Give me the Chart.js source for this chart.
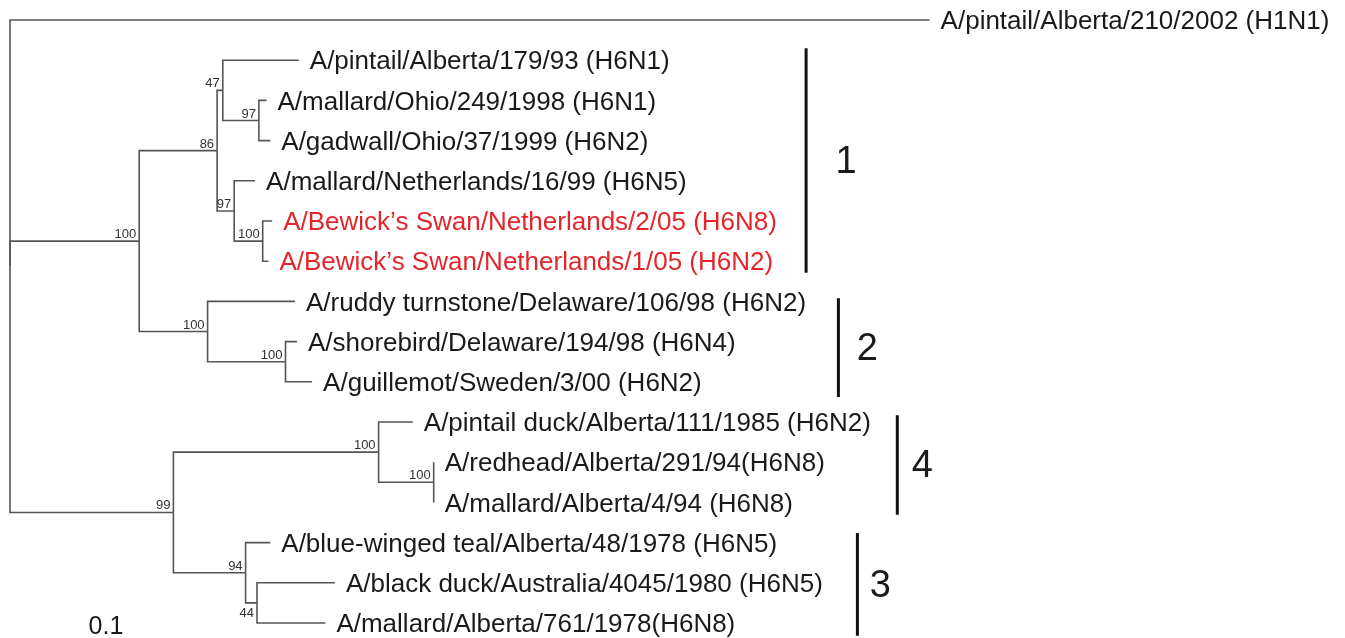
<!DOCTYPE html>
<html>
  <head>
    <title>H6 HA phylogeny</title>
    <script src="https://cdn.jsdelivr.net/npm/chart.js"></script>
    <style>
      body {
        margin: 0;
        padding: 0;
        background: #fff;
      }
      #chart-container {
        width: 1345px;
        height: 638px;
        position: relative;
      }
    </style>
  </head>
  <body>
    <div id="chart-container">
      <canvas id="treeChart"></canvas>
    </div>
    <script>
      // --- Tree data (branch lengths in substitutions/site) ---
      // Leaves, in display order (one row each, top to bottom)
      const taxa = [
        "A/pintail/Alberta/210/2002 (H1N1)",
        "A/pintail/Alberta/179/93 (H6N1)",
        "A/mallard/Ohio/249/1998 (H6N1)",
        "A/gadwall/Ohio/37/1999 (H6N2)",
        "A/mallard/Netherlands/16/99 (H6N5)",
        "A/Bewick\u2019s Swan/Netherlands/2/05 (H6N8)",
        "A/Bewick\u2019s Swan/Netherlands/1/05 (H6N2)",
        "A/ruddy turnstone/Delaware/106/98 (H6N2)",
        "A/shorebird/Delaware/194/98 (H6N4)",
        "A/guillemot/Sweden/3/00 (H6N2)",
        "A/pintail duck/Alberta/111/1985 (H6N2)",
        "A/redhead/Alberta/291/94(H6N8)",
        "A/mallard/Alberta/4/94 (H6N8)",
        "A/blue-winged teal/Alberta/48/1978 (H6N5)",
        "A/black duck/Australia/4045/1980 (H6N5)",
        "A/mallard/Alberta/761/1978(H6N8)"
      ];
      const leafParent = ["root", "C", "D", "D", "E", "F", "F", "G", "H", "H", "J", "K", "K", "L", "M", "M"];
      const leafBranch = [0.484, 0.040, 0.004, 0.006, 0.011, 0.005, 0.003, 0.046, 0.006, 0.014, 0.018, 0, 0, 0.013, 0.041, 0.036];
      const highlightedTaxa = [5, 6];

      // Internal nodes (parents listed before children)
      const nodeIds = ["root", "A", "B", "C", "D", "E", "F", "G", "H", "I", "J", "K", "L", "M"];
      const nodeParent = [null, "root", "A", "B", "C", "B", "E", "A", "G", "root", "I", "J", "I", "L"];
      const nodeBranch = [0, 0.068, 0.041, 0.003, 0.019, 0.009, 0.015, 0.036, 0.041, 0.086, 0.108, 0.029, 0.038, 0.006];
      const bootstrap = [null, 100, 86, 47, 97, 97, 100, 100, 100, 99, 100, 100, 94, 44];
      const bootstrapBelow = ["M"];

      // Clades marked on the right
      const cladeNames = ["1", "2", "4", "3"];
      const cladeFirst = [1, 7, 10, 13];
      const cladeLast = [6, 9, 12, 15];

      const scaleBarLabel = "0.1";

      // --- Layout (pixels / data units, kept apart from the data) ---
      const PX_PER_UNIT = 1900;
      const ROW_PX = 40.2;
      const cladeBarX = [0.419, 0.436, 0.467, 0.446];
      const cladePad = [[-0.30, 0.29], [-0.08, 0.38], [-0.17, 0.31], [-0.24, 0.32]];
      const cladeLabelGap = [40, 29, 25, 23];
      const FONT = '"Liberation Sans", Arial, sans-serif';

      // --- Build node coordinates ---
      const pos = {};
      nodeIds.forEach((id, i) => {
        const p = nodeParent[i];
        pos[id] = { x: p === null ? 0 : pos[p].x + nodeBranch[i], y: null };
      });
      const leafPos = taxa.map((t, i) => ({ x: pos[leafParent[i]].x + leafBranch[i], y: i }));
      // y of internal nodes: middle of the children, computed bottom-up
      for (let i = nodeIds.length - 1; i >= 0; i--) {
        const id = nodeIds[i];
        const ys = [];
        leafParent.forEach((p, j) => { if (p === id) ys.push(leafPos[j].y); });
        nodeParent.forEach((p, j) => { if (p === id) ys.push(pos[nodeIds[j]].y); });
        pos[id].y = (Math.min(...ys) + Math.max(...ys)) / 2;
      }

      // --- Datasets: one elbow per branch ---
      const branchStyle = {
        showLine: true,
        borderColor: "#555",
        borderWidth: 1.6,
        pointRadius: 0,
        fill: false,
        tension: 0,
        borderJoinStyle: "miter"
      };
      const datasets = [];
      const elbow = (parent, child) => [
        { x: parent.x, y: parent.y },
        { x: parent.x, y: child.y },
        { x: child.x, y: child.y }
      ];
      nodeIds.forEach((id, i) => {
        if (nodeParent[i] === null) return;
        datasets.push({ ...branchStyle, data: elbow(pos[nodeParent[i]], pos[id]) });
      });
      taxa.forEach((t, i) => {
        datasets.push({ ...branchStyle, data: elbow(pos[leafParent[i]], leafPos[i]) });
      });
      cladeNames.forEach((c, i) => {
        datasets.push({
          ...branchStyle,
          borderColor: "#111",
          borderWidth: 3,
          borderCapStyle: "butt",
          data: [
            { x: cladeBarX[i], y: cladeFirst[i] + cladePad[i][0] },
            { x: cladeBarX[i], y: cladeLast[i] + cladePad[i][1] }
          ]
        });
      });

      // --- Text: taxon names, bootstrap values, clade numbers, scale ---
      const treeText = {
        id: "treeText",
        afterDatasetsDraw(chart) {
          const { ctx, scales } = chart;
          const px = v => scales.x.getPixelForValue(v);
          const py = v => scales.y.getPixelForValue(v);
          ctx.save();

          ctx.font = "26px " + FONT;
          ctx.textAlign = "left";
          ctx.textBaseline = "middle";
          taxa.forEach((t, i) => {
            ctx.fillStyle = highlightedTaxa.includes(i) ? "#e3262c" : "#1a1a1a";
            ctx.fillText(t, px(leafPos[i].x) + 11, py(leafPos[i].y) + 2);
          });

          ctx.font = "13px " + FONT;
          ctx.fillStyle = "#333";
          ctx.textAlign = "right";
          nodeIds.forEach((id, i) => {
            if (bootstrap[i] === null) return;
            const x = px(pos[id].x) - 3;
            const y = py(pos[id].y);
            if (bootstrapBelow.includes(id)) {
              ctx.textBaseline = "top";
              ctx.fillText(String(bootstrap[i]), x, y + 4);
            } else {
              ctx.textBaseline = "alphabetic";
              ctx.fillText(String(bootstrap[i]), x, y - 3);
            }
          });

          ctx.font = "38px " + FONT;
          ctx.fillStyle = "#1a1a1a";
          ctx.textAlign = "center";
          ctx.textBaseline = "middle";
          cladeNames.forEach((c, i) => {
            const top = py(cladeFirst[i] + cladePad[i][0]);
            const bottom = py(cladeLast[i] + cladePad[i][1]);
            ctx.fillText(c, px(cladeBarX[i]) + cladeLabelGap[i], (top + bottom) / 2 + 2);
          });

          ctx.font = "25px " + FONT;
          ctx.textAlign = "center";
          ctx.fillText(scaleBarLabel, 106, 627);
          ctx.restore();
        }
      };

      const W = 1345, H = 638;
      const ctx = document.getElementById("treeChart").getContext("2d");
      new Chart(ctx, {
        type: "scatter",
        data: { datasets },
        options: {
          responsive: true,
          maintainAspectRatio: false,
          animation: false,
          layout: { padding: 0, autoPadding: false },
          plugins: {
            legend: { display: false },
            tooltip: { enabled: false }
          },
          scales: {
            x: {
              type: "linear",
              display: false,
              min: -10 / PX_PER_UNIT,
              max: (W - 10) / PX_PER_UNIT
            },
            y: {
              type: "linear",
              display: false,
              reverse: true,
              min: -20 / ROW_PX,
              max: (H - 20) / ROW_PX
            }
          }
        },
        plugins: [treeText]
      });
    </script>
  </body>
</html>
